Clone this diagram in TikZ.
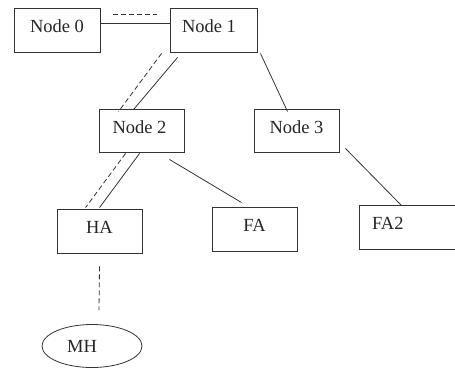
\documentclass[tikz,border=0pt]{standalone}
\usepackage{fontspec}
\setmainfont{Liberation Serif}
\usetikzlibrary{calc,shapes.geometric}
\begin{document}
\begin{tikzpicture}[x=1pt,y=-1pt,
  every node/.style={font=\fontsize{18.5}{20}\selectfont, text=black!85},
  box/.style={draw=black!80, line width=0.9pt, inner sep=0pt, minimum height=44pt,
    text height=13pt, text depth=8pt},
  link/.style={draw=black!80, line width=0.8pt},
  dlink/.style={link, dash pattern=on 5pt off 3pt}]
\clip (0,0) rectangle (455,367);
\fill[white] (0,0) rectangle (455,367);

% boxes of the tree
\node[box, minimum width=86pt] (n0) at (57,30) {Node 0};
\node[box, minimum width=87pt] (n1) at (213.5,30) {Node 1\kern9pt};
\node[box, minimum width=85pt, minimum height=43pt] (n2) at (141.5,130.5) {Node 2\kern4pt};
\node[box, minimum width=85pt, minimum height=43pt] (n3) at (296.5,130.5) {Node 3};
\node[box, minimum width=85pt] (ha) at (99.5,231) {HA};
\node[box, minimum width=85pt] (fa) at (254.5,229) {FA};
\node[box, minimum width=100pt, text width=74pt, align=left, inner xsep=13pt, minimum height=44pt] (fa2) at (409,227) {FA2};
\node[ellipse, draw=black!80, line width=0.8pt, minimum width=100pt, minimum height=43pt, inner sep=0pt] (mh) at (92,346) {MH\kern20pt};

% links
\draw[link] (n0.east) ++(0,-7) -- ($(n1.west)+(0,-7)$);
\draw[dlink] ($(n0.north east)+(13,7)$) -- ($(n1.north west)+(-13,7)$);

\draw[link] ($(n1.south west)+(8,5)$) -- ($(n2.north west)+(35,1)$);
\draw[dlink] ($(n1.south west)+(-8,1)$) -- ($(n2.north west)+(20,3)$);

\draw[link] ($(n1.south east)+(3,1)$) -- ($(n3.north west)+(34,3)$);

\draw[link] ($(n2.south west)+(41,1)$) -- ($(ha.north west)+(43,-1)$);
\draw[dlink] ($(n2.south west)+(27,1)$) -- ($(ha.north west)+(29,-1)$);

\draw[link] ($(n2.south east)+(-15,7)$) -- ($(fa.north west)+(30,-4)$);
\draw[link] ($(n3.south east)+(6,-4)$) -- ($(fa2.north west)+(43,1)$);

\draw[dlink] ($(ha.south)+(0,13)$) -- ($(mh.north)+(7,-14)$);
\end{tikzpicture}
\end{document}
